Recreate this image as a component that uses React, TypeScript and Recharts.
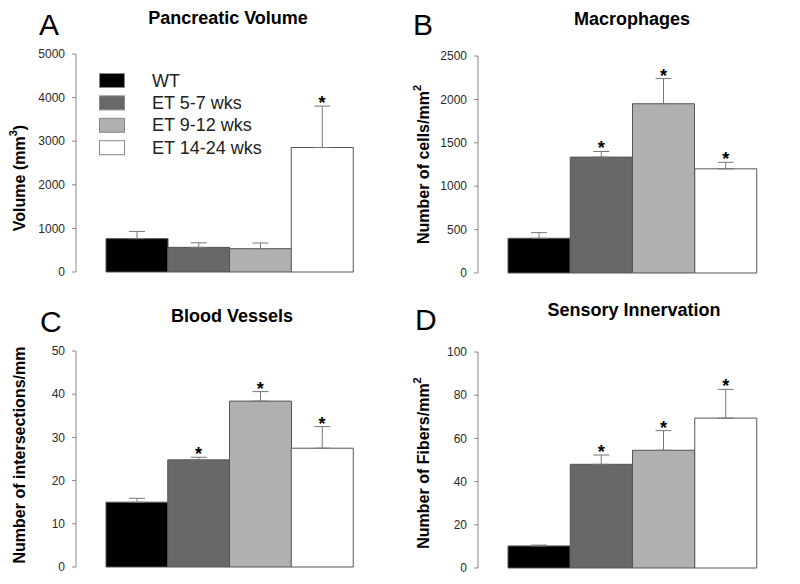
import React from 'react';
import {
  Bar,
  Cell,
  ComposedChart,
  ErrorBar,
  Legend,
  Scatter,
  XAxis,
  YAxis,
} from 'recharts';

const FONT = '"Liberation Sans", Arial, Helvetica, sans-serif';

const groups = ['WT', 'ET 5-7 wks', 'ET 9-12 wks', 'ET 14-24 wks'];
const groupColors = ['#000000', '#686868', '#b0b0b0', '#ffffff'];

// A - pancreatic volume (mm3)
const volumeMean = [765, 565, 535, 2855];
const volumeErr = [165, 105, 130, 950];
const volumeStar = [false, false, false, true];
const volumeTicks = [0, 1000, 2000, 3000, 4000, 5000];

// B - macrophages (cells/mm2)
const macrophageMean = [400, 1335, 1950, 1200];
const macrophageErr = [65, 65, 290, 75];
const macrophageStar = [false, true, true, true];
const macrophageTicks = [0, 500, 1000, 1500, 2000, 2500];

// C - blood vessels (intersections/mm)
const vesselMean = [15, 24.8, 38.4, 27.5];
const vesselErr = [0.9, 0.6, 2.2, 5.0];
const vesselStar = [false, true, true, true];
const vesselTicks = [0, 10, 20, 30, 40, 50];

// D - sensory innervation (fibers/mm2)
const fiberMean = [10.2, 48, 54.5, 69.4];
const fiberErr = [0.4, 4.3, 9.1, 13.3];
const fiberStar = [false, true, true, true];
const fiberTicks = [0, 20, 40, 60, 80, 100];

type Row = {
  group: string;
  mean: number;
  errRange: [number, number];
  starAt: number | null;
};

const buildRows = (mean: number[], err: number[], star: boolean[]): Row[] =>
  groups.map((g, i) => ({
    group: g,
    mean: mean[i],
    errRange: [0, err[i]],
    starAt: star[i] ? mean[i] + err[i] : null,
  }));

const StarShape = (props: any) => {
  const { cx, cy, payload } = props;
  if (!payload || payload.starAt == null || cx == null || cy == null) return <g />;
  return (
    <text
      x={cx}
      y={cy + 3}
      textAnchor="middle"
      fontSize={18}
      fontWeight="bold"
      fontFamily={FONT}
      fill="#000"
    >
      *
    </text>
  );
};

// legend drawn a few px inside its box so no text touches the svg edge
const LegendBox = () => (
  <svg width={230} height={110} style={{ display: 'block' }}>
    {groups.map((g, i) => (
      <g key={g}>
        <rect
          x={5.5}
          y={8.5 + i * 22.4}
          width={25}
          height={14}
          fill={groupColors[i]}
          stroke="#888"
          strokeWidth={1}
        />
        <text
          x={58}
          y={21.5 + i * 22.4}
          fontSize={18}
          fontFamily={FONT}
          fill="#222"
        >
          {g}
        </text>
      </g>
    ))}
  </svg>
);

type PanelProps = {
  left: number;
  top: number;
  height: number;
  plotTop: number;
  plotBottom: number;
  yWidth: number;
  right: number;
  pad: { left: number; right: number };
  rows: Row[];
  ticks: number[];
  label: string;
  sup?: string;
  after?: string;
  labelX: number;
  labelShift: number;
  legend?: boolean;
};

const Panel = ({
  left,
  top,
  height,
  plotTop,
  plotBottom,
  yWidth,
  right,
  pad,
  rows,
  ticks,
  label,
  sup,
  after,
  labelX,
  labelShift,
  legend,
}: PanelProps) => {
  const renderLabel = (p: any) => {
    const vb = p.viewBox || {};
    const cx = (vb.x || 0) + labelX;
    const cy = (vb.y || 0) + (vb.height || 0) / 2 + labelShift;
    return (
      <text
        x={cx}
        y={cy}
        transform={`rotate(-90 ${cx} ${cy})`}
        textAnchor="middle"
        dominantBaseline="central"
        fontSize={16}
        fontWeight="bold"
        fontFamily={FONT}
        fill="#000"
      >
        {label}
        {sup && (
          <tspan dy={-6} fontSize={11}>
            {sup}
          </tspan>
        )}
        {after && <tspan dy={6}>{after}</tspan>}
      </text>
    );
  };

  return (
    <div style={{ position: 'absolute', left, top }}>
      <ComposedChart
        width={400}
        height={height}
        data={rows}
        barCategoryGap={0}
        margin={{ top: plotTop, right, bottom: height - plotBottom, left: 0 }}
      >
        <XAxis
          dataKey="group"
          height={0}
          tick={false}
          tickLine={false}
          axisLine={{ stroke: '#888' }}
          padding={pad}
        />
        <YAxis
          width={yWidth}
          domain={[ticks[0], ticks[ticks.length - 1]]}
          ticks={ticks}
          interval={0}
          tickSize={4}
          tickMargin={7}
          axisLine={{ stroke: '#888' }}
          tickLine={{ stroke: '#888' }}
          tick={{ fill: '#2a2a2a', fontSize: 12, fontFamily: FONT }}
          label={renderLabel}
        />
        {legend && (
          <Legend
            layout="vertical"
            align="center"
            verticalAlign="middle"
            wrapperStyle={{ left: 94, top: 65, width: 230, height: 110 }}
            content={() => <LegendBox />}
          />
        )}
        <Bar dataKey="mean" stroke="#555" strokeWidth={1} isAnimationActive={false}>
          {rows.map((r, i) => (
            <Cell key={r.group} fill={groupColors[i]} />
          ))}
          <ErrorBar
            dataKey="errRange"
            direction="y"
            width={8}
            stroke="#777"
            strokeWidth={1}
            isAnimationActive={false}
          />
        </Bar>
        <Scatter dataKey="starAt" shape={StarShape} isAnimationActive={false} />
      </ComposedChart>
    </div>
  );
};

const titleStyle = {
  fontSize: 18,
  fontWeight: 'bold' as const,
  fontFamily: FONT,
  fill: '#000',
};
const letterStyle = { fontSize: 30, fontFamily: FONT, fill: '#000' };

export default function App() {
  return (
    <div
      style={{
        position: 'absolute',
        left: 0,
        top: 0,
        width: 800,
        height: 584,
        background: '#fff',
        overflow: 'hidden',
      }}
    >
      <Panel
        left={0}
        top={0}
        height={290}
        plotTop={54}
        plotBottom={272}
        yWidth={76}
        right={15}
        pad={{ left: 30, right: 32 }}
        rows={buildRows(volumeMean, volumeErr, volumeStar)}
        ticks={volumeTicks}
        label="Volume (mm"
        sup="3"
        after=")"
        labelX={19}
        labelShift={15}
        legend
      />
      <Panel
        left={400}
        top={0}
        height={290}
        plotTop={56}
        plotBottom={273}
        yWidth={78}
        right={13}
        pad={{ left: 30, right: 30 }}
        rows={buildRows(macrophageMean, macrophageErr, macrophageStar)}
        ticks={macrophageTicks}
        label="Number of cells/mm"
        sup="2"
        labelX={23}
        labelShift={0}
      />
      <Panel
        left={0}
        top={290}
        height={294}
        plotTop={61}
        plotBottom={277}
        yWidth={76}
        right={15}
        pad={{ left: 30, right: 32 }}
        rows={buildRows(vesselMean, vesselErr, vesselStar)}
        ticks={vesselTicks}
        label="Number of intersections/mm"
        labelX={19}
        labelShift={-4}
      />
      <Panel
        left={400}
        top={290}
        height={294}
        plotTop={62}
        plotBottom={278}
        yWidth={78}
        right={13}
        pad={{ left: 30, right: 30 }}
        rows={buildRows(fiberMean, fiberErr, fiberStar)}
        ticks={fiberTicks}
        label="Number of Fibers/mm"
        sup="2"
        labelX={23}
        labelShift={3}
      />
      <svg
        width={800}
        height={584}
        style={{ position: 'absolute', left: 0, top: 0, pointerEvents: 'none' }}
      >
        <text x={39} y={35} {...letterStyle}>A</text>
        <text x={413} y={35} {...letterStyle}>B</text>
        <text x={40} y={332} {...letterStyle}>C</text>
        <text x={415} y={330} {...letterStyle}>D</text>
        <text x={228} y={24} textAnchor="middle" {...titleStyle}>Pancreatic Volume</text>
        <text x={632} y={25} textAnchor="middle" {...titleStyle}>Macrophages</text>
        <text x={232} y={322} textAnchor="middle" {...titleStyle}>Blood Vessels</text>
        <text x={634} y={316} textAnchor="middle" {...titleStyle}>Sensory Innervation</text>
      </svg>
    </div>
  );
}
